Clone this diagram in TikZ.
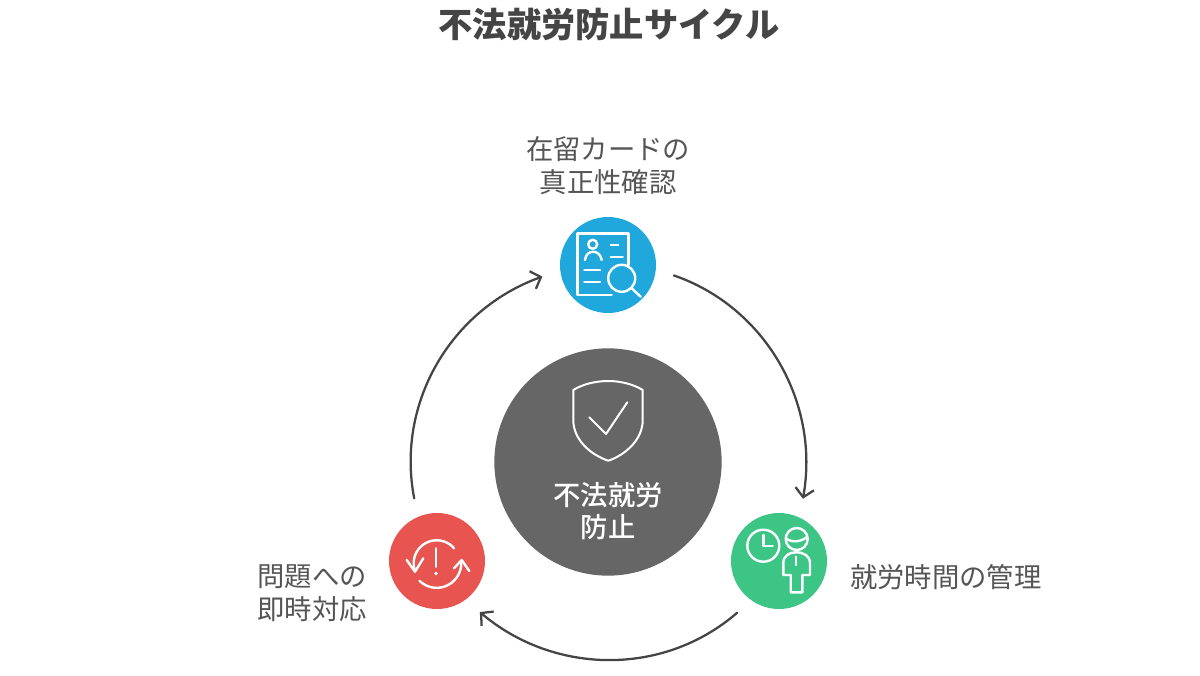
\documentclass[tikz,border=0pt]{standalone}
\usepackage{fontspec}
\usetikzlibrary{arrows.meta}
\setmainfont{Noto Sans CJK JP}
\newfontfamily\medfont{Noto Sans CJK JP Medium}
\definecolor{ink}{HTML}{454545}
\definecolor{labelink}{HTML}{555555}
\definecolor{hubfill}{HTML}{666666}
\definecolor{bluefill}{HTML}{20A8DD}
\definecolor{greenfill}{HTML}{3DC585}
\definecolor{redfill}{HTML}{E85551}
\tikzset{
  disc/.style={circle,inner sep=0pt,minimum size=72pt,outer sep=14pt,draw=none},
  hubdisc/.style={circle,inner sep=0pt,minimum size=170.5pt,fill=hubfill},
  titletext/.style={font=\fontsize{25.7pt}{30pt}\selectfont\bfseries,text=ink},
  labeltext/.style={font=\fontsize{20.5pt}{24.75pt}\selectfont,text=labelink,align=center,inner sep=0pt},
  hubtext/.style={font=\fontsize{20.5pt}{24pt}\medfont,text=white,align=center,inner sep=0pt},
  conn/.style={draw=ink,line width=1.7pt,line cap=round,-{Straight Barb[length=6.5pt,width=14pt,line width=1.7pt]}},
  iconline/.style={draw=white,line width=1.8pt,line cap=round,line join=round},
  iconthin/.style={draw=white,line width=1.5pt,line cap=round,line join=round}
}
\begin{document}
\begin{tikzpicture}[x=0.75pt,y=-0.75pt]
\useasboundingbox (0,0) rectangle (1200,675);
\fill[white] (0,0) rectangle (1200,675);
\node[titletext] (title) at (609,25) {不法就労防止サイクル};
\node[hubdisc] (hub) at (608,462) {};
\node[hubtext] (hublabel) at (608,511) {不法就労\\防止};
\node[disc,fill=bluefill] (card) at (608,265) {};
\node[disc,fill=greenfill] (time) at (779,561) {};
\node[disc,fill=redfill] (resp) at (437,561) {};
\node[labeltext] (cardlabel) at (608,166) {在留カードの\\真正性確認};
\node[labeltext,anchor=west] (timelabel) at (850,577) {就労時間の管理};
\node[labeltext] (resplabel) at (312,593) {問題への\\即時対応};
% connectors
\draw[conn] (card.-9.8) .. controls +(91.9,31.6) and +(17.2,-95.6) .. (time.69.4);
\draw[conn] (time.-129.8) .. controls +(-73.4,63.8) and +(74.2,62.7) .. (resp.-50.6);
\draw[conn] (resp.110.2) .. controls +(-18.5,-95.4) and +(-91.4,32.9) .. (card.-170.6);
% shield icon
\draw[iconthin] (608.3,381) .. controls (620,381) and (633,384) .. (642.7,390)
  -- (642.7,420) .. controls (642.7,440) and (625,455) .. (608.3,460.7)
  .. controls (591,455) and (573.3,440) .. (573.3,420) -- (573.3,390)
  .. controls (583,384) and (596,381) .. (608.3,381) -- cycle;
\draw[iconthin] (589.3,417.3) -- (606,434) -- (627.3,402.3);
% card icon
\draw[iconline] (611.7,295) -- (577.3,295) -- (577.3,233.3) -- (628.3,233.3) -- (628.3,265);
\draw[iconline] (592.7,244.3) circle[radius=4.5];
\draw[iconline] (585,260) .. controls (586,249) and (600,249) .. (601.7,260);
\draw[iconline] (610.7,245) -- (618.3,245);
\draw[iconline] (610.7,256.7) -- (622.7,256.7);
\draw[iconline] (584.3,270) -- (600,270);
\draw[iconline] (584.3,281.7) -- (600,281.7);
\draw[iconline] (621.7,278.3) circle[radius=13.5];
\draw[iconline] (631.7,288.3) -- (640.7,296.7);
% clock and worker icon
\draw[iconline] (763.3,545.7) circle[radius=16];
\draw[iconline] (763.3,535) -- (763.3,545.7) -- (772.7,545.7);
\draw[iconline] (796.7,539) circle[radius=11];
\draw[iconline] (785.7,538.3) .. controls (792,543) and (801,542) .. (807.3,536.7);
\draw[iconline] (783.3,575) -- (783.3,563.3) .. controls (783.3,556) and (789,552.3) .. (796,552.3)
  .. controls (804,552.3) and (810,556) .. (810,563.3) -- (810,575) -- (802.3,575) -- (802.3,592.3) -- (790.7,592.3) -- (790.7,575) -- cycle;
\draw[iconline] (796,556.7) -- (796,565);
% alert icon
\draw[iconline] plot[domain=41:197,samples=40] ({436.7+23*cos(\x)},{563.3-23*sin(\x)});
\draw[iconline] plot[domain=225:364,samples=40] ({436.7+24.5*cos(\x)},{563.3-24.5*sin(\x)});
\draw[iconline] (406.7,560) -- (415,571.7) -- (423.3,558.3);
\draw[iconline] (454,568.3) -- (461.7,560) -- (469.3,571);
\draw[iconline] (436,548.3) -- (436,566.7);
\fill[white] (436,573.5) circle[radius=1.8];
\end{tikzpicture}
\end{document}
